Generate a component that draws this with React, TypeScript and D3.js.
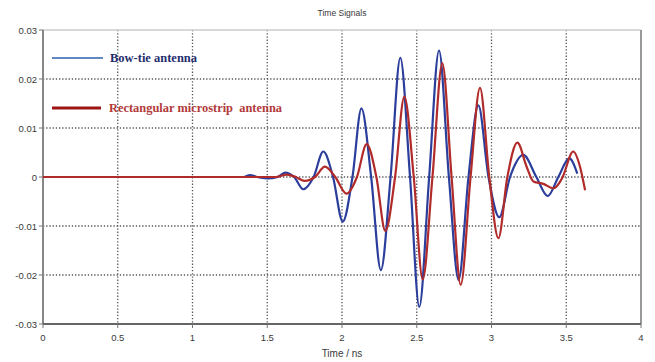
import React from 'react';
import * as d3 from 'd3';

const W = 655;
const H = 362;

// Bow-tie antenna: key points (time in ns, amplitude)
const bowTieTime = [0, 1.2, 1.34, 1.385, 1.43, 1.5, 1.57, 1.619, 1.68, 1.741, 1.81, 1.875, 1.94, 2.005, 2.07, 2.13, 2.195, 2.26, 2.325, 2.39, 2.455, 2.517, 2.583, 2.649, 2.715, 2.78, 2.846, 2.912, 2.98, 3.052, 3.124, 3.213, 3.3, 3.376, 3.447, 3.52, 3.574];
const bowTieValue = [0, 0, 0, 0.0004, 0, -0.0003, 0, 0.0009, 0, -0.0025, 0, 0.0052, 0, -0.0091, 0, 0.014, 0, -0.019, 0, 0.0243, 0, -0.0265, 0, 0.0258, 0, -0.021, 0, 0.0146, 0, -0.0082, 0, 0.0045, 0, -0.0039, 0, 0.0038, 0.0007];

// Rectangular microstrip antenna
const rectTime = [0, 1.2, 1.56, 1.63, 1.69, 1.75, 1.82, 1.886, 1.955, 2.03, 2.1, 2.165, 2.23, 2.29, 2.355, 2.417, 2.48, 2.54, 2.605, 2.671, 2.733, 2.794, 2.86, 2.923, 2.985, 3.046, 3.106, 3.173, 3.235, 3.28, 3.347, 3.414, 3.458, 3.476, 3.547, 3.592, 3.626];
const rectValue = [0, 0, 0, 0.0005, 0, -0.0008, 0, 0.0021, 0, -0.0034, 0, 0.0067, 0, -0.011, 0, 0.0164, 0, -0.0209, 0, 0.0232, 0, -0.022, 0, 0.0182, 0, -0.0125, 0, 0.007, 0.0021, -0.0009, -0.0014, -0.0023, -0.001, 0, 0.0052, 0.0021, -0.0027];

const xTicks = [0, 0.5, 1, 1.5, 2, 2.5, 3, 3.5, 4];
const yTicks = [0.03, 0.02, 0.01, 0, -0.01, -0.02, -0.03];
const yTickLabels = ['0.03', '0.02', '0.01', '0', '-0.01', '-0.02', '-0.03'];

const legendNames = ['Bow-tie antenna', 'Rectangular microstrip  antenna'];

export default function App() {
  const left = 43, right = 641, top = 30, bottom = 324;
  const x = d3.scaleLinear().domain([0, 4]).range([left, right]);
  const y = d3.scaleLinear().domain([-0.03, 0.03]).range([bottom, top]);

  const line = d3.line<[number, number]>()
    .x(d => x(d[0]))
    .y(d => y(d[1]))
    .curve(d3.curveMonotoneX);

  const bowPts = bowTieTime.map((t, i) => [t, bowTieValue[i]] as [number, number]);
  const rectPts = rectTime.map((t, i) => [t, rectValue[i]] as [number, number]);

  const tickFont = { fontFamily: 'Liberation Sans, Arial, sans-serif', fontSize: 9.5, fill: '#3a3a3a' };

  return (
    <svg width={W} height={H} style={{ position: 'absolute', left: 0, top: 0, background: '#fff' }}>
      <rect x={0} y={0} width={W} height={H} fill="#fff" />
      <text x={(left + right) / 2} y={16} textAnchor="middle" style={{ ...tickFont, fontSize: 8.5 }}>Time Signals</text>

      {/* grid */}
      {xTicks.filter(t => t > 0 && t < 4).map(t => (
        <line key={'gx' + t} x1={x(t)} x2={x(t)} y1={top} y2={bottom} stroke="#555" strokeWidth={1.3} strokeDasharray="1.3,1.9" />
      ))}
      {yTicks.filter(t => t > -0.03 && t < 0.03).map(t => (
        <line key={'gy' + t} x1={left} x2={right} y1={y(t)} y2={y(t)} stroke="#555" strokeWidth={1.3} strokeDasharray="1.3,1.9" />
      ))}

      {/* frame */}
      <line x1={left} x2={right} y1={top} y2={top} stroke="#ccc" strokeWidth={1.5} />
      <line x1={right} x2={right} y1={top} y2={bottom} stroke="#999" strokeWidth={2} />
      <line x1={left} x2={left} y1={top} y2={bottom} stroke="#888" strokeWidth={2} />
      <line x1={left} x2={right} y1={bottom} y2={bottom} stroke="#666" strokeWidth={2} />

      {/* ticks */}
      {yTicks.map((t, i) => (
        <g key={'yt' + t}>
          <line x1={left - 4} x2={left} y1={y(t)} y2={y(t)} stroke="#777" strokeWidth={1} />
          <text x={left - 6} y={y(t) + 3.5} textAnchor="end" style={tickFont}>{yTickLabels[i]}</text>
        </g>
      ))}
      {xTicks.map(t => (
        <g key={'xt' + t}>
          <line x1={x(t)} x2={x(t)} y1={bottom} y2={bottom + 4} stroke="#777" strokeWidth={1} />
          <text x={x(t)} y={bottom + 17} textAnchor="middle" style={tickFont}>{String(t)}</text>
        </g>
      ))}
      <text x={(left + right) / 2} y={357} textAnchor="middle" style={{ ...tickFont, fontSize: 10 }}>Time / ns</text>

      {/* series */}
      <path d={line(bowPts) || ''} fill="none" stroke="#2b3e9c" strokeWidth={2.2} />
      <path d={line(rectPts) || ''} fill="none" stroke="#b12b2b" strokeWidth={2.2} />

      {/* legend */}
      <line x1={52} x2={103} y1={58} y2={58} stroke="#2f5fae" strokeWidth={1.5} />
      <text x={110} y={62} textLength={87} lengthAdjust="spacingAndGlyphs"
        style={{ fontFamily: 'Liberation Serif, Times New Roman, serif', fontWeight: 'bold', fontSize: 13, fill: '#1f2d6e' }}>{legendNames[0]}</text>
      <line x1={52} x2={101} y1={108} y2={108} stroke="#9c1414" strokeWidth={3} />
      <text x={109} y={112} textLength={173} lengthAdjust="spacingAndGlyphs" xmlSpace="preserve"
        style={{ fontFamily: 'Liberation Serif, Times New Roman, serif', fontWeight: 'bold', fontSize: 13, fill: '#b23a3a', whiteSpace: 'pre' }}>{legendNames[1]}</text>
    </svg>
  );
}
